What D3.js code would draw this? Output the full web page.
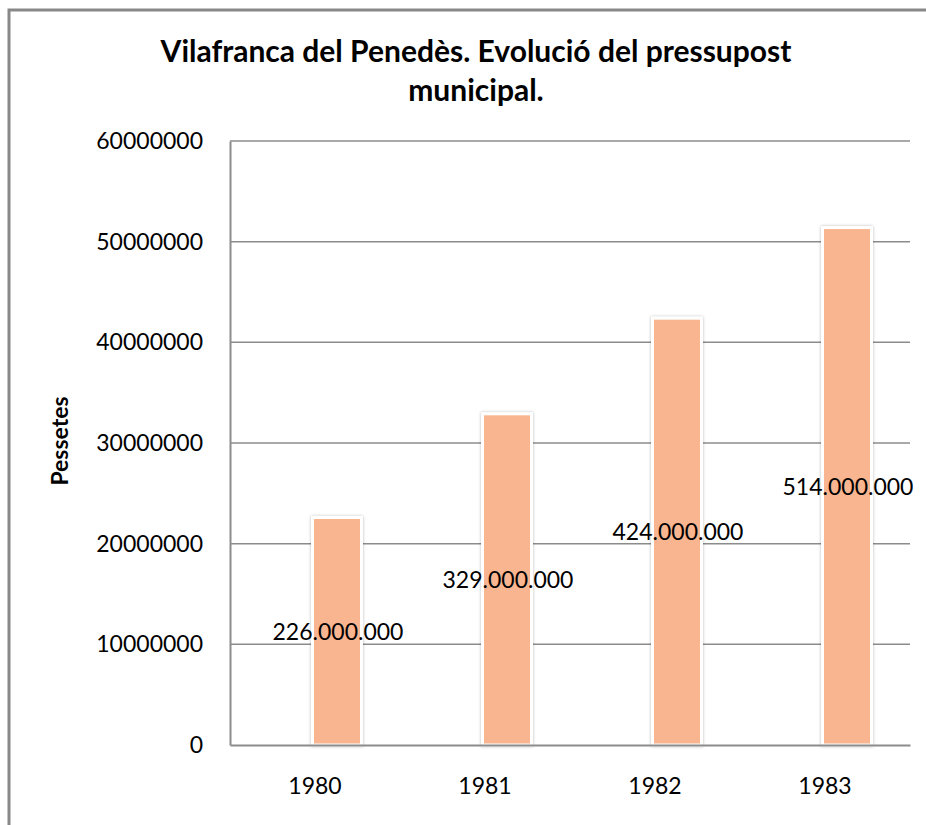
<!DOCTYPE html>
<html>
<head>
<meta charset="utf-8">
<script src="https://cdn.jsdelivr.net/npm/d3@7/dist/d3.min.js"></script>
<style>
  html, body { margin: 0; padding: 0; background: #fff; }
  svg { display: block; }
</style>
</head>
<body>
<script>
const categories = ["1980", "1981", "1982", "1983"];
const values = [22600000, 32900000, 42400000, 51400000];
const valueLabels = ["226.000.000", "329.000.000", "424.000.000", "514.000.000"];
const yTicks = [0, 10000000, 20000000, 30000000, 40000000, 50000000, 60000000];
const titleLines = ["Vilafranca del Penedès. Evolució del pressupost", "municipal."];
const yAxisTitle = "Pessetes";

const W = 926, H = 825;
const plot = { left: 230, right: 910, top: 141, bottom: 745 };
const barOffset = 22, barWidth = 49;

const svg = d3.select("body").append("svg").attr("width", W).attr("height", H);

const defs = svg.append("defs");
const f = defs.append("filter").attr("id", "sh").attr("x", "-30%").attr("y", "-5%").attr("width", "160%").attr("height", "110%");
f.append("feDropShadow").attr("dx", 0).attr("dy", 0).attr("stdDeviation", 1.6).attr("flood-color", "#000").attr("flood-opacity", 0.28);

// outer frame
svg.append("rect").attr("x", 9).attr("y", 10).attr("width", W + 20).attr("height", H + 20)
  .attr("fill", "#fff").attr("stroke", "#888").attr("stroke-width", 3);

const x = d3.scaleBand().domain(categories).range([plot.left, plot.right]);
const y = d3.scaleLinear().domain([0, 60000000]).range([plot.bottom, plot.top]);

// gridlines
svg.append("g").selectAll("line").data(yTicks.filter(t => t > 0)).join("line")
  .attr("x1", plot.left).attr("x2", plot.right)
  .attr("y1", d => y(d)).attr("y2", d => y(d))
  .attr("stroke", "#8c8c8c").attr("stroke-width", 1.5);

// y axis
const yAxis = d3.axisLeft(y).tickValues(yTicks).tickFormat(d3.format("d")).tickSize(0).tickPadding(27);
const yg = svg.append("g").attr("transform", `translate(${plot.left},0)`).call(yAxis);
yg.select(".domain").attr("stroke", "#8c8c8c").attr("stroke-width", 2);
yg.selectAll("text").attr("font-family", "Lato, sans-serif").attr("font-size", 23).attr("fill", "#000");

// bars
svg.append("g").selectAll("rect").data(values).join("rect")
  .attr("x", (d, i) => x(categories[i]) + x.bandwidth() / 2 + barOffset - barWidth / 2)
  .attr("width", barWidth)
  .attr("y", d => y(d))
  .attr("height", d => y(0) - y(d))
  .attr("fill", "#F8B58F")
  .attr("stroke", "#fff").attr("stroke-width", 3)
  .attr("filter", "url(#sh)");

// x axis
const xAxis = d3.axisBottom(x).tickSize(0).tickPadding(33);
const xg = svg.append("g").attr("transform", `translate(0,${plot.bottom})`).call(xAxis);
xg.select(".domain").attr("stroke", "#8c8c8c").attr("stroke-width", 2);
xg.selectAll("text").attr("font-family", "Lato, sans-serif").attr("font-size", 23).attr("fill", "#000");

// data labels
svg.append("g").selectAll("text").data(values).join("text")
  .attr("x", (d, i) => x(categories[i]) + x.bandwidth() / 2 + barOffset + 1)
  .attr("y", d => (y(d) + y(0)) / 2)
  .attr("dy", "0.36em")
  .attr("text-anchor", "middle")
  .attr("font-family", "Lato, sans-serif").attr("font-size", 23).attr("fill", "#000")
  .text((d, i) => valueLabels[i]);

// title
svg.append("g").selectAll("text").data(titleLines).join("text")
  .attr("x", 476).attr("y", (d, i) => 62 + i * 39)
  .attr("text-anchor", "middle")
  .attr("font-family", "Lato, sans-serif").attr("font-weight", "bold").attr("font-size", 30).attr("fill", "#000")
  .text(d => d);

// y axis title
svg.append("text")
  .attr("transform", `translate(68,441) rotate(-90)`)
  .attr("text-anchor", "middle")
  .attr("font-family", "Lato, sans-serif").attr("font-weight", "bold").attr("font-size", 23).attr("fill", "#000")
  .text(yAxisTitle);
</script>
</body>
</html>
